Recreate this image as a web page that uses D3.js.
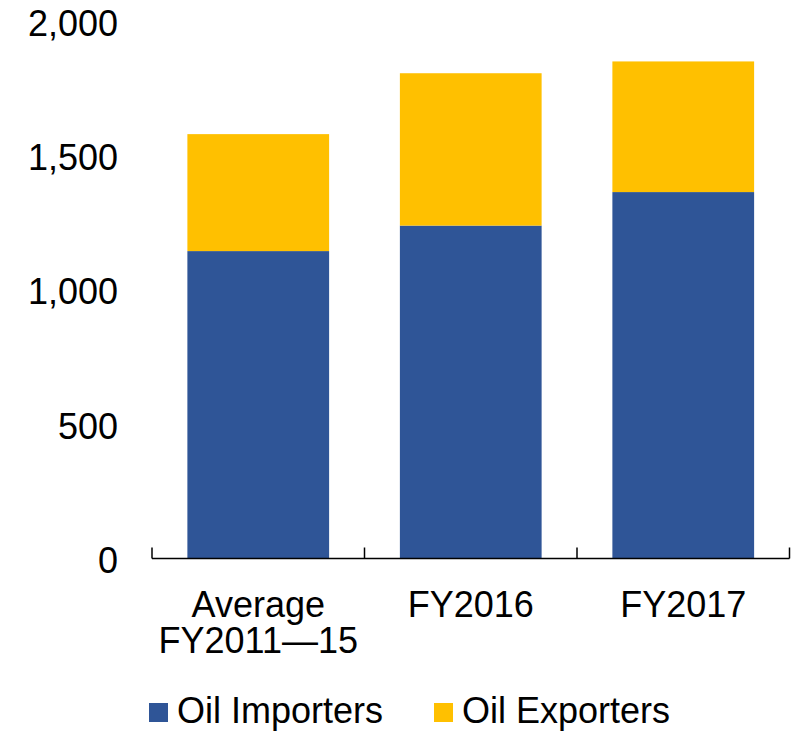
<!DOCTYPE html>
<html>
<head>
<meta charset="utf-8">
<script src="https://cdn.jsdelivr.net/npm/d3@7"></script>
<style>
  html, body { margin: 0; padding: 0; background: #fff; }
  svg { display: block; font-family: "Liberation Sans", Arial, sans-serif; }
</style>
</head>
<body>
<svg id="chart" width="797" height="735"></svg>
<script>
// Stacked values by period
const categories = ["Average FY2011\u201415", "FY2016", "FY2017"];
const categoryLines = [["Average", "FY2011\u201415"], ["FY2016"], ["FY2017"]];
const seriesNames = ["Oil Importers", "Oil Exporters"];
const oilImporters = [1146, 1241, 1366];
const oilExporters = [436, 568, 487];
const yTicks = [0, 500, 1000, 1500, 2000];

const colors = { "Oil Importers": "#2F5597", "Oil Exporters": "#FFC000" };
const FONT = 36;

const svg = d3.select("#chart");
const W = 797, H = 735;
const margin = { left: 152, right: W - 789.5, top: 22, bottom: H - 558.5 };

const rows = categories.map((c, i) => ({
  category: c,
  "Oil Importers": oilImporters[i],
  "Oil Exporters": oilExporters[i]
}));

// Bars centred in equal slots
const x = d3.scaleBand()
  .domain(categories)
  .range([margin.left, W - margin.right])
  .paddingInner(0.333)
  .paddingOuter(0.1665);

// Slot boundaries for the x-axis ticks
const slot = d3.scaleBand()
  .domain(categories)
  .range([margin.left, W - margin.right])
  .padding(0);

const y = d3.scaleLinear()
  .domain([0, 2000])
  .range([H - margin.bottom, margin.top]);

const layers = d3.stack().keys(seriesNames)(rows);

svg.append("g")
  .selectAll("g")
  .data(layers)
  .join("g")
  .attr("fill", d => colors[d.key])
  .selectAll("rect")
  .data(d => d)
  .join("rect")
  .attr("x", d => x(d.data.category))
  .attr("width", x.bandwidth())
  .attr("y", d => y(d[1]))
  .attr("height", d => y(d[0]) - y(d[1]));

// Y tick labels (no axis line)
const gy = svg.append("g")
  .attr("transform", `translate(${margin.left},0)`)
  .call(d3.axisLeft(y)
    .tickValues(yTicks)
    .tickFormat(d3.format(","))
    .tickSize(0)
    .tickPadding(34));
gy.select(".domain").remove();
gy.selectAll("text")
  .attr("font-size", FONT)
  .attr("font-family", "Liberation Sans, Arial, sans-serif")
  .attr("fill", "#000")
  .attr("dy", "0.38em");

// X axis baseline with boundary ticks
const y0 = y(0);
const gx = svg.append("g");
gx.append("line")
  .attr("x1", slot.range()[0]).attr("x2", slot.range()[1])
  .attr("y1", y0).attr("y2", y0)
  .attr("stroke", "#000").attr("stroke-width", 1.5);
const boundaries = categories.map(c => slot(c)).concat([slot.range()[1]]);
gx.selectAll("line.tick")
  .data(boundaries)
  .join("line")
  .attr("class", "tick")
  .attr("x1", d => d).attr("x2", d => d)
  .attr("y1", y0).attr("y2", y0 - 11)
  .attr("stroke", "#000").attr("stroke-width", 1.5);

// Category labels
const labels = svg.append("g")
  .selectAll("text")
  .data(categories)
  .join("text")
  .attr("x", d => x(d) + x.bandwidth() / 2)
  .attr("y", 617)
  .attr("text-anchor", "middle")
  .attr("font-size", FONT)
  .attr("fill", "#000");
labels.each(function(d, i) {
  d3.select(this).selectAll("tspan")
    .data(categoryLines[i])
    .join("tspan")
    .attr("x", x(d) + x.bandwidth() / 2)
    .attr("dy", (t, j) => j === 0 ? 0 : 35.5)
    .text(t => t);
});

// Legend
const legendItems = [
  { name: "Oil Importers", x: 149 },
  { name: "Oil Exporters", x: 434 }
];
const li = svg.append("g")
  .selectAll("g")
  .data(legendItems)
  .join("g")
  .attr("transform", d => `translate(${d.x},0)`);
li.append("rect")
  .attr("y", 703)
  .attr("width", 19).attr("height", 19)
  .attr("fill", d => colors[d.name]);
li.append("text")
  .attr("x", 28)
  .attr("y", 723)
  .attr("font-size", FONT)
  .attr("fill", "#000")
  .text(d => d.name);
</script>
</body>
</html>
